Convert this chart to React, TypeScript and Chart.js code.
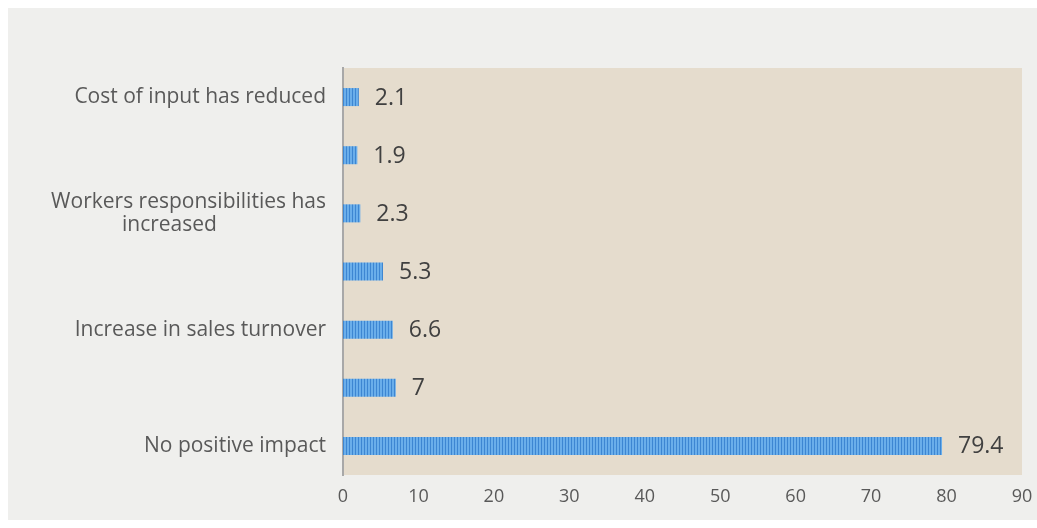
import React, { useEffect, useRef } from "react";
import { Chart, registerables } from "chart.js";

Chart.register(...registerables);

const NB = "\u00a0";
const categories: (string | string[])[] = [
  "Cost of input has reduced",
  "",
  ["Workers responsibilities has", "increased" + NB.repeat(20)],
  "",
  "Increase in sales turnover",
  "",
  "No positive impact",
];
const values = [2.1, 1.9, 2.3, 5.3, 6.6, 7, 79.4];
const xMin = 0;
const xMax = 90;
const xStep = 10;

const FONT = "'Open Sans', 'Liberation Sans', sans-serif";
const W = 1029;
const H = 512;

function makeStripePattern(): CanvasPattern | string {
  const c = document.createElement("canvas");
  c.width = 3;
  c.height = 4;
  const g = c.getContext("2d");
  if (!g) return "#5b9bd5";
  g.fillStyle = "#6aaeea";
  g.fillRect(0, 0, 3, 4);
  g.fillStyle = "#3d86d2";
  g.fillRect(2, 0, 1, 4);
  const p = g.createPattern(c, "repeat");
  return p || "#5b9bd5";
}

const backgroundPlugin = {
  id: "bgPlugin",
  beforeDraw(chart: any) {
    const { ctx, chartArea, width, height } = chart;
    ctx.save();
    ctx.fillStyle = "#efefed";
    ctx.fillRect(0, 0, width, height);
    ctx.fillStyle = "#e5dccd";
    ctx.fillRect(chartArea.left, chartArea.top, chartArea.right - chartArea.left, chartArea.bottom - chartArea.top);
    ctx.restore();
  },
};

const valueLabelPlugin = {
  id: "valueLabels",
  afterDatasetsDraw(chart: any) {
    const { ctx } = chart;
    const meta = chart.getDatasetMeta(0);
    ctx.save();
    ctx.font = `23px ${FONT}`;
    ctx.fillStyle = "#404040";
    ctx.textAlign = "left";
    ctx.textBaseline = "middle";
    meta.data.forEach((bar: any, i: number) => {
      ctx.fillText(String(values[i]), bar.x + 16, bar.y + 1);
    });
    ctx.restore();
  },
};

export default function App() {
  const ref = useRef<HTMLCanvasElement | null>(null);
  useEffect(() => {
    if (!ref.current) return;
    const chart = new Chart(ref.current, {
      type: "bar",
      data: {
        labels: categories,
        datasets: [
          {
            data: values,
            backgroundColor: makeStripePattern() as any,
            borderWidth: 0,
            barPercentage: 0.62,
            categoryPercentage: 0.5,
          },
        ],
      },
      options: {
        indexAxis: "y",
        animation: false,
        responsive: false,
        maintainAspectRatio: false,
        layout: { padding: { top: 60, right: 15, bottom: 10, left: 0 } },
        plugins: {
          legend: { display: false },
          tooltip: { enabled: false },
        },
        scales: {
          x: {
            min: xMin,
            max: xMax,
            ticks: {
              stepSize: xStep,
              color: "#595959",
              font: { family: FONT, size: 18 },
              padding: 11,
            },
            grid: { display: false, drawTicks: false },
            border: { display: false },
            afterFit(scale: any) {
              scale.height = 35;
              scale.paddingLeft = 0;
              scale.paddingRight = 0;
            },
          },
          y: {
            ticks: {
              color: "#595959",
              font: { family: FONT, size: 21, lineHeight: 1.1 },
              padding: 17,
              autoSkip: false,
            },
            grid: { display: false, drawTicks: false },
            border: { display: true, color: "#a8a8a8", width: 2 },
            afterFit(scale: any) {
              scale.width = 335;
              scale.paddingTop = 0;
              scale.paddingBottom = 0;
            },
          },
        },
      },
      plugins: [backgroundPlugin, valueLabelPlugin],
    });
    return () => chart.destroy();
  }, []);
  return (
    <div style={{ position: "absolute", left: 8, top: 8, width: W, height: H, overflow: "hidden" }}>
      <canvas ref={ref} width={W} height={H} style={{ display: "block", width: W, height: H }} />
    </div>
  );
}
